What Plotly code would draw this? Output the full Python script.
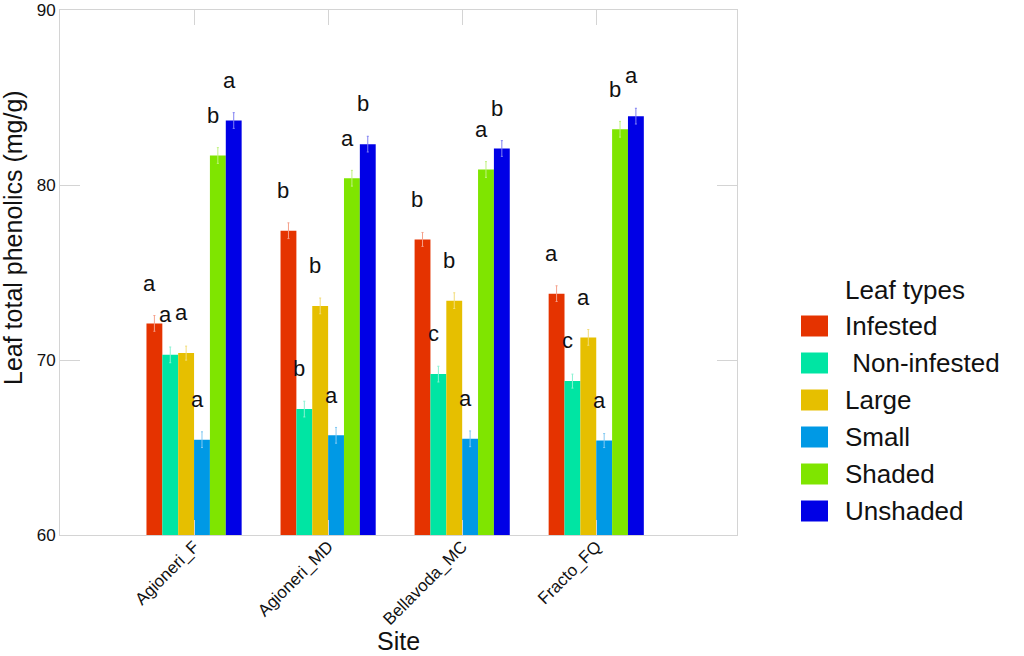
import plotly.graph_objects as go

sites = ['Agioneri_F', 'Agioneri_MD', 'Bellavoda_MC', 'Fracto_FQ']
leaf_types = ['Infested', ' Non-infested', 'Large', 'Small', 'Shaded', 'Unshaded']

infested = [72.1, 77.4, 76.9, 73.8]
non_infested = [70.3, 67.2, 69.2, 68.8]
large = [70.4, 73.1, 73.4, 71.3]
small = [65.45, 65.7, 65.5, 65.4]
shaded = [81.7, 80.4, 80.9, 83.2]
unshaded = [83.7, 82.35, 82.1, 83.95]

err_infested = [0.45, 0.45, 0.4, 0.45]
err_non_infested = [0.45, 0.45, 0.45, 0.4]
err_large = [0.4, 0.45, 0.45, 0.45]
err_small = [0.45, 0.45, 0.45, 0.4]
err_shaded = [0.45, 0.45, 0.45, 0.45]
err_unshaded = [0.45, 0.45, 0.45, 0.45]

letters_infested = ['a', 'b', 'b', 'a']
letters_non_infested = ['a', 'b', 'c', 'c']
letters_large = ['a', 'b', 'b', 'a']
letters_small = ['a', 'a', 'a', 'a']
letters_shaded = ['b', 'a', 'a', 'b']
letters_unshaded = ['a', 'b', 'b', 'a']

values = [infested, non_infested, large, small, shaded, unshaded]
errors = [err_infested, err_non_infested, err_large, err_small, err_shaded, err_unshaded]
letters = [letters_infested, letters_non_infested, letters_large,
           letters_small, letters_shaded, letters_unshaded]

colors = ['#E53300', '#00E5A3', '#E6BF00', '#0099E5', '#7FE500', '#0000E6']
err_colors = ['#F5A08A', '#8AF2D2', '#F2DC7A', '#80C8F2', '#C0F280', '#8080F2']

FONT = 'Liberation Sans, Arial, sans-serif'

# plot area in pixels (used to place the hand-made legend and titles)
L, R, T, B = 60, 737, 10, 535


def px_x(x):
    return (x - L) / (R - L)


def px_y(y):
    return (B - y) / (B - T)


fig = go.Figure()

for i, name in enumerate(leaf_types):
    fig.add_trace(go.Bar(
        x=sites, y=values[i], name=name,
        marker=dict(color=colors[i], line=dict(width=0)),
        error_y=dict(type='data', array=errors[i], visible=True,
                     color=err_colors[i], thickness=1, width=1),
        showlegend=False,
    ))

bar_px = 16
for i in range(len(leaf_types)):
    for j, site in enumerate(sites):
        fig.add_annotation(
            x=site, y=values[i][j] + 2.3,
            text=letters[i][j], showarrow=False,
            xshift=(i - 2.5) * bar_px - 5,
            yanchor='middle',
            font=dict(family=FONT, size=22, color='#111111'),
        )

# axis titles
fig.add_annotation(
    x=px_x(398), y=px_y(641), xref='paper', yref='paper',
    text='Site', showarrow=False, xanchor='center', yanchor='middle',
    font=dict(family=FONT, size=25, color='#111111'),
)
fig.add_annotation(
    x=px_x(13), y=px_y(238), xref='paper', yref='paper',
    text='Leaf total phenolics (mg/g)', showarrow=False, textangle=-90,
    xanchor='center', yanchor='middle',
    font=dict(family=FONT, size=25, color='#111111'),
)

# legend drawn by hand to get the large swatches
fig.add_annotation(
    x=px_x(843), y=px_y(290), xref='paper', yref='paper',
    text='Leaf types', showarrow=False, xanchor='left', yanchor='middle',
    font=dict(family=FONT, size=26, color='#111111'),
)
for i, name in enumerate(leaf_types):
    cy = 326 + i * 37
    fig.add_shape(
        type='rect', xref='paper', yref='paper',
        x0=px_x(801), x1=px_x(828), y0=px_y(cy - 10.5), y1=px_y(cy + 10.5),
        fillcolor=colors[i], line=dict(width=0),
    )
    fig.add_annotation(
        x=px_x(843), y=px_y(cy), xref='paper', yref='paper',
        text=name.replace(' ', '&nbsp;'), showarrow=False,
        xanchor='left', yanchor='middle',
        font=dict(family=FONT, size=26, color='#111111'),
    )

fig.update_layout(
    width=1024, height=656,
    margin=dict(l=L, r=1024 - R, t=T, b=656 - B, autoexpand=False),
    plot_bgcolor='white', paper_bgcolor='white',
    barmode='group', bargap=0.29, bargroupgap=0,
    font=dict(family=FONT, size=17, color='#111111'),
    xaxis=dict(
        range=[-1.0, 4.05], tickangle=-45, automargin=False,
        showline=True, mirror='ticks', linecolor='#d4d4d4', linewidth=1,
        ticks='inside', ticklen=15, tickcolor='#d4d4d4',
        showgrid=False, zeroline=False,
        tickfont=dict(size=17), ticklabelstandoff=-6,
    ),
    yaxis=dict(
        range=[60, 90.02], tickvals=[60, 70, 80, 90], automargin=False,
        showline=True, mirror='ticks', linecolor='#d4d4d4', linewidth=1,
        ticks='inside', ticklen=20, tickcolor='#d4d4d4',
        showgrid=False, zeroline=False, ticklabeloverflow='allow',
        tickfont=dict(size=17),
    ),
)

fig.write_html('out.html', config={'displayModeBar': False},
               post_script="document.body.style.margin='0';")
